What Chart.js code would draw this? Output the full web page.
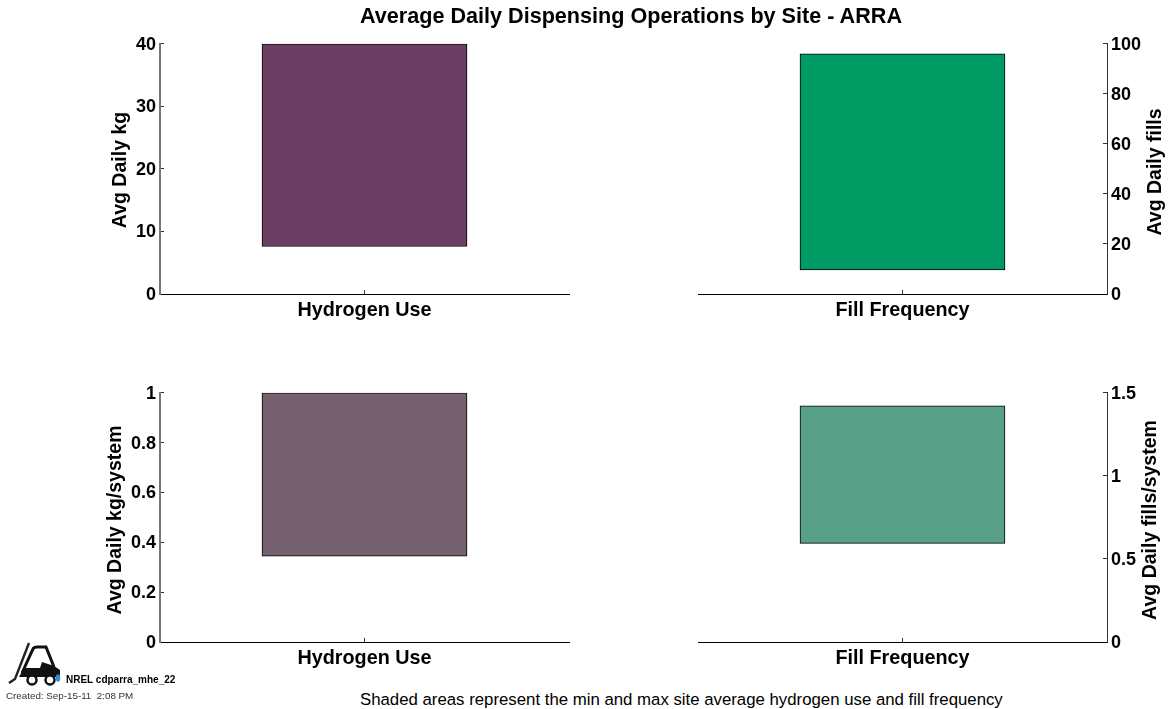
<!DOCTYPE html>
<html><head><meta charset="utf-8">
<script src="https://cdn.jsdelivr.net/npm/chart.js@4"></script>
<style>
html,body{margin:0;padding:0;background:#fff;width:1168px;height:709px;overflow:hidden}
canvas{position:absolute}
.t{position:absolute;white-space:nowrap;font-family:"Liberation Sans",Arial,sans-serif;color:#000}
.r{transform:translate(-50%,-50%) rotate(-90deg);font-size:19.5px;font-weight:bold;line-height:24px}
</style></head><body>
<canvas id="c0"></canvas><canvas id="c1"></canvas><canvas id="c2"></canvas><canvas id="c3"></canvas>
<div class="t" style="left:360px;top:4px;font-size:21.6px;font-weight:bold;line-height:24px">Average Daily Dispensing Operations by Site - ARRA</div>
<div class="t" style="left:360px;top:690px;font-size:16.8px;line-height:19px">Shaded areas represent the min and max site average hydrogen use and fill frequency</div>
<div class="t" style="left:66px;top:674px;font-size:10px;font-weight:bold;line-height:11px">NREL cdparra_mhe_22</div>
<div class="t" style="left:6px;top:690px;font-size:9.8px;color:#333;line-height:11px">Created: Sep-15-11&nbsp; 2:08 PM</div>
<div class="t r" id="rt0" style="left:119px;top:170px"></div>
<div class="t r" id="rt1" style="left:1154px;top:172px"></div>
<div class="t r" id="rt2" style="left:114px;top:520px"></div>
<div class="t r" id="rt3" style="left:1149px;top:520px"></div>
<svg style="position:absolute;left:0;top:640px" width="70" height="50" viewBox="0 0 70 50">
<path d="M29 3 L15 39 L9 43" fill="none" stroke="#222" stroke-width="2.4"/>
<path d="M22 33 L33 9 Q34 7 37 7 L46 7 L54 27" fill="none" stroke="#111" stroke-width="3"/>
<path d="M19 37 L24 28 L40 28 L42 22 L54 26 L60 30 L60 37 Z" fill="#111"/>
<circle cx="32" cy="40" r="4.5" fill="#fff" stroke="#111" stroke-width="2.5"/>
<circle cx="50" cy="40" r="4.5" fill="#fff" stroke="#111" stroke-width="2.5"/>
<ellipse cx="58" cy="38" rx="2.2" ry="3.8" fill="#2a8fd0"/>
</svg>
<script>
const hydrogenCategory = ["Hydrogen Use"];
const fillCategory = ["Fill Frequency"];
const dailyKgRange = [7.6, 40];
const dailyFillsRange = [9.6, 96];
const kgPerSystemRange = [0.344, 1];
const fillsPerSystemRange = [0.594, 1.422];
const axisTitles = ["Avg Daily kg", "Avg Daily fills", "Avg Daily kg/system", "Avg Daily fills/system"];
const axisMax = [40, 100, 1, 1.5];
const axisStep = [10, 20, 0.2, 0.5];
const barColors = ["#6b3f63", "#009b65", "#75606f", "#58a088"];
const FF = '"Liberation Sans", Arial, sans-serif';
axisTitles.forEach((text, i) => { document.getElementById('rt' + i).textContent = text; });

function make(id, labels, range, i, box, side) {
  const cv = document.getElementById(id);
  cv.style.left = box.x + 'px'; cv.style.top = box.y + 'px';
  cv.width = box.w; cv.height = box.h;
  cv.style.width = box.w + 'px'; cv.style.height = box.h + 'px';
  const isLeft = side === 'left';
  new Chart(cv, {
    type: 'bar',
    data: { labels, datasets: [{ data: [range], backgroundColor: barColors[i], borderColor: '#000', borderWidth: 1, borderSkipped: false, barThickness: 205 }] },
    options: {
      responsive: false, animation: false, devicePixelRatio: 1,
      layout: { padding: box.pad },
      plugins: { legend: { display: false }, title: { display: false }, tooltip: { enabled: false } },
      scales: {
        x: {
          grid: { offset: false, drawOnChartArea: false, tickLength: -4, tickColor: '#333', tickWidth: 1 },
          border: { color: '#000', width: 1 },
          ticks: { color: '#000', font: { family: FF, size: 19.8, weight: 'bold' }, padding: 9, maxRotation: 0 },
          afterFit(s) { s.height = box.xh; }
        },
        y: {
          position: side, min: 0, max: axisMax[i],
          grid: { drawOnChartArea: false, tickLength: -4, tickColor: '#333', tickWidth: 1 },
          border: { color: isLeft ? '#777' : '#333', width: isLeft ? 2 : 1 },
          ticks: { color: '#000', stepSize: axisStep[i], labelOffset: 1, font: { family: FF, size: 18, weight: 'bold' }, padding: 8, callback: v => String(+v.toFixed(1)) },
          afterFit(s) { s.width = box.yw; }
        }
      }
    }
  });
}
make('c0', hydrogenCategory, dailyKgRange, 0, { x: 90, y: 25, w: 490, h: 310, yw: 70, xh: 41, pad: { top: 18, right: 11, left: 0, bottom: 0 } }, 'left');
make('c1', fillCategory, dailyFillsRange, 1, { x: 688, y: 25, w: 480, h: 310, yw: 61, xh: 41, pad: { top: 18, right: 0, left: 10, bottom: 0 } }, 'right');
make('c2', hydrogenCategory, kgPerSystemRange, 2, { x: 90, y: 374, w: 490, h: 310, yw: 70, xh: 42, pad: { top: 18, right: 11, left: 0, bottom: 0 } }, 'left');
make('c3', fillCategory, fillsPerSystemRange, 3, { x: 688, y: 374, w: 480, h: 310, yw: 61, xh: 42, pad: { top: 18, right: 0, left: 10, bottom: 0 } }, 'right');
</script>
</body></html>
